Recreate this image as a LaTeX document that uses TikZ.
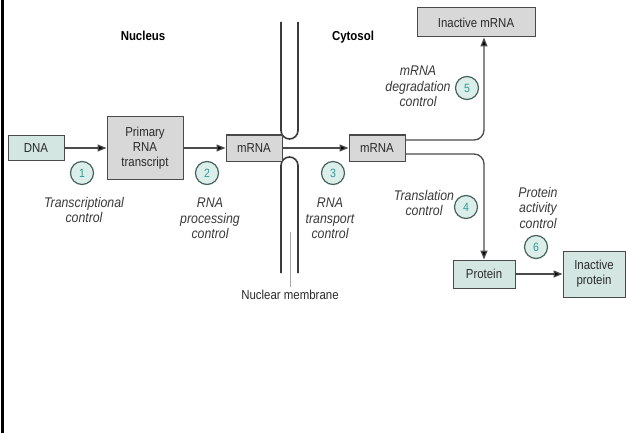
\documentclass[tikz,border=0pt]{standalone}
\usepackage{fontspec}
\setmainfont[FakeStretch=0.88]{Liberation Sans}
\usetikzlibrary{arrows.meta,calc}
\definecolor{tealfill}{HTML}{D3E6E2}
\definecolor{grayfill}{HTML}{D8D8D8}
\definecolor{boxline}{HTML}{4A4A4A}
\definecolor{txt}{HTML}{2A2A2A}
\definecolor{lbl}{HTML}{3A3A3A}
\definecolor{numc}{HTML}{2A9C92}
\definecolor{circfill}{HTML}{DCEEEA}
\definecolor{circline}{HTML}{46625E}
\tikzset{
  box/.style={draw=boxline, line width=1pt, inner sep=0pt, align=center, text=txt,
     font=\fontsize{13}{15}\selectfont},
  tealbox/.style={box, fill=tealfill},
  graybox/.style={box, fill=grayfill},
  num/.style={circle, draw=circline, line width=1.2pt, fill=circfill, minimum size=23pt,
     inner sep=0pt, text=numc, font=\fontsize{12}{12}\selectfont},
  lab/.style={anchor=north, inner sep=0pt, align=center, text=lbl,
     font=\fontsize{14}{15.5}\selectfont\itshape},
  head/.style={anchor=north, inner sep=0pt, text=black, font=\fontsize{13}{15}\selectfont\bfseries},
  conn/.style={draw=boxline, line width=1.3pt, -{Triangle[length=9pt,width=7pt,fill=black]}},
  membrane/.style={draw=boxline!80!black, line width=1.6pt}
}
\begin{document}
\begin{tikzpicture}[x=1pt,y=-1pt]
\useasboundingbox (0,0) rectangle (626,433);
\fill[white] (0,0) rectangle (626,433);
% left edge
\draw[line width=3pt] (2.5,0) -- (2.5,433);

% headings
\node[head] (nucleus) at (143,31) {Nucleus};
\node[head] (cytosol) at (353,31) {Cytosol};

% membrane
\draw[membrane, rounded corners=8.5pt] (281,22) -- (281,139) -- (298,139) -- (298,22);
\draw[membrane, rounded corners=8.5pt] (281,273) -- (281,157) -- (298,157) -- (298,273);

% boxes
\node[tealbox, minimum width=56pt, minimum height=25pt] (dna) at (36,148) {DNA};
\node[graybox, minimum width=76pt, minimum height=62pt] (prim) at (145,148) {Primary\\RNA\\transcript};
\node[graybox, minimum width=56pt, minimum height=26pt] (m1) at (254,148) {mRNA};
\node[graybox, minimum width=56pt, minimum height=26pt] (m2) at (377,148) {mRNA};
\node[graybox, minimum width=118pt, minimum height=29pt] (imrna) at (476,22.5) {Inactive mRNA};
\node[tealbox, minimum width=62pt, minimum height=28pt] (prot) at (484,274) {Protein};
\node[tealbox, minimum width=62pt, minimum height=46pt] (iprot) at (594,274) {Inactive\\protein};

% connectors
\draw[conn] (dna) -- (prim);
\draw[conn] (prim) -- (m1);
\draw[conn] (m1) -- (m2);
\draw[conn, rounded corners=10pt] ([yshift=8pt]m2.east) -| ([xshift=8pt]imrna.south);
\draw[conn, rounded corners=10pt] ([yshift=-6pt]m2.east) -| (prot.north);
\draw[conn] (prot) -- (iprot);

% numbered circles
\node[num] (c1) at (82,173) {1};
\node[num] (c2) at (207,173) {2};
\node[num] (c3) at (333,173) {3};
\node[num] (c4) at (466,207) {4};
\node[num] (c5) at (467,88) {5};
\node[num] (c6) at (536,247) {6};

% labels
\node[lab] (l1) at (84,197) {Transcriptional\\control};
\node[lab] (l2) at (210,198) {RNA\\processing\\control};
\node[lab] (l3) at (330,198) {RNA\\transport\\control};
\node[lab] (l4) at (424,190) {Translation\\control};
\node[lab] (l5) at (418,66) {mRNA\\degradation\\control};
\node[lab] (l6) at (538,187) {Protein\\activity\\control};

% nuclear membrane label
\node[anchor=north, inner sep=0pt, text=txt, font=\fontsize{13}{15}\selectfont] (nm) at (290,290) {Nuclear membrane};
\coordinate (lead) at (290,232);
\draw[draw=gray!70, line width=0.8pt] (lead) -- ([yshift=3pt]nm.north);
\end{tikzpicture}
\end{document}
